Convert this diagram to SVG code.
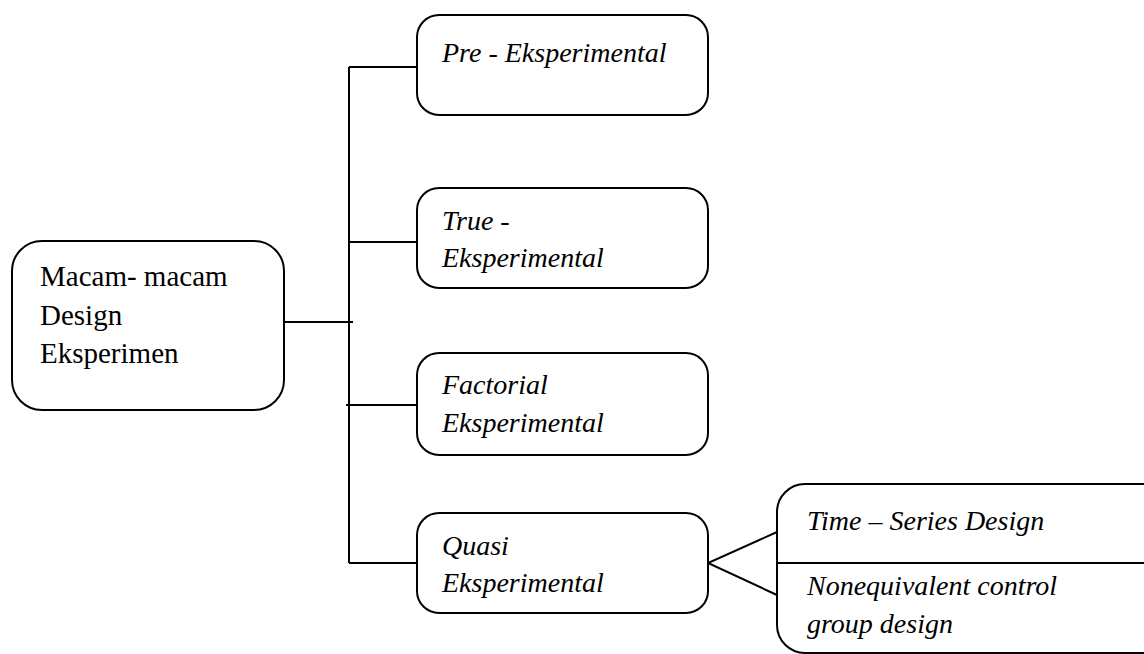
<svg xmlns="http://www.w3.org/2000/svg" width="1144" height="654" viewBox="0 0 1144 654">
<style>
.box{fill:#fff;stroke:#000;stroke-width:2}
.ln{fill:none;stroke:#000;stroke-width:2}
.t{font-size:29px;fill:#000}
.i{font-size:28px;font-style:italic;fill:#000}
</style>
<rect width="1144" height="654" fill="#fff"/>
<g id="connectors">
<path class="ln" d="M284 322H353"/>
<path class="ln" d="M349 67V563"/>
<path class="ln" d="M349 67H417"/>
<path class="ln" d="M349 242H417"/>
<path class="ln" d="M346 405H417"/>
<path class="ln" d="M349 563H417"/>
<path class="ln" d="M777 532L708 563L777 595"/>
</g>
<g font-family="Liberation Serif, Times New Roman, serif">
<g id="root">
<rect class="box" x="12" y="241" width="272" height="169" rx="30"/>
<text class="t" x="40" y="286">Macam- macam</text>
<text class="t" x="40" y="325">Design</text>
<text class="t" x="40" y="363">Eksperimen</text>
</g>
<g id="pre">
<rect class="box" x="417" y="15" width="291" height="100" rx="22"/>
<text class="i" x="442" y="62">Pre - Eksperimental</text>
</g>
<g id="true">
<rect class="box" x="417" y="188" width="291" height="100" rx="22"/>
<text class="i" x="442" y="230">True -</text>
<text class="i" x="442" y="267">Eksperimental</text>
</g>
<g id="factorial">
<rect class="box" x="417" y="353" width="291" height="102" rx="22"/>
<text class="i" x="442" y="394">Factorial</text>
<text class="i" x="442" y="432">Eksperimental</text>
</g>
<g id="quasi">
<rect class="box" x="417" y="513" width="291" height="100" rx="22"/>
<text class="i" x="442" y="555">Quasi</text>
<text class="i" x="442" y="592">Eksperimental</text>
</g>
<g id="quasi-types">
<rect class="box" x="777" y="484" width="400" height="169" rx="28"/>
<path class="ln" d="M777 563H1144"/>
<text class="i" x="807" y="530">Time – Series Design</text>
<text class="i" x="807" y="595">Nonequivalent control</text>
<text class="i" x="807" y="633">group design</text>
</g>
</g>
</svg>
